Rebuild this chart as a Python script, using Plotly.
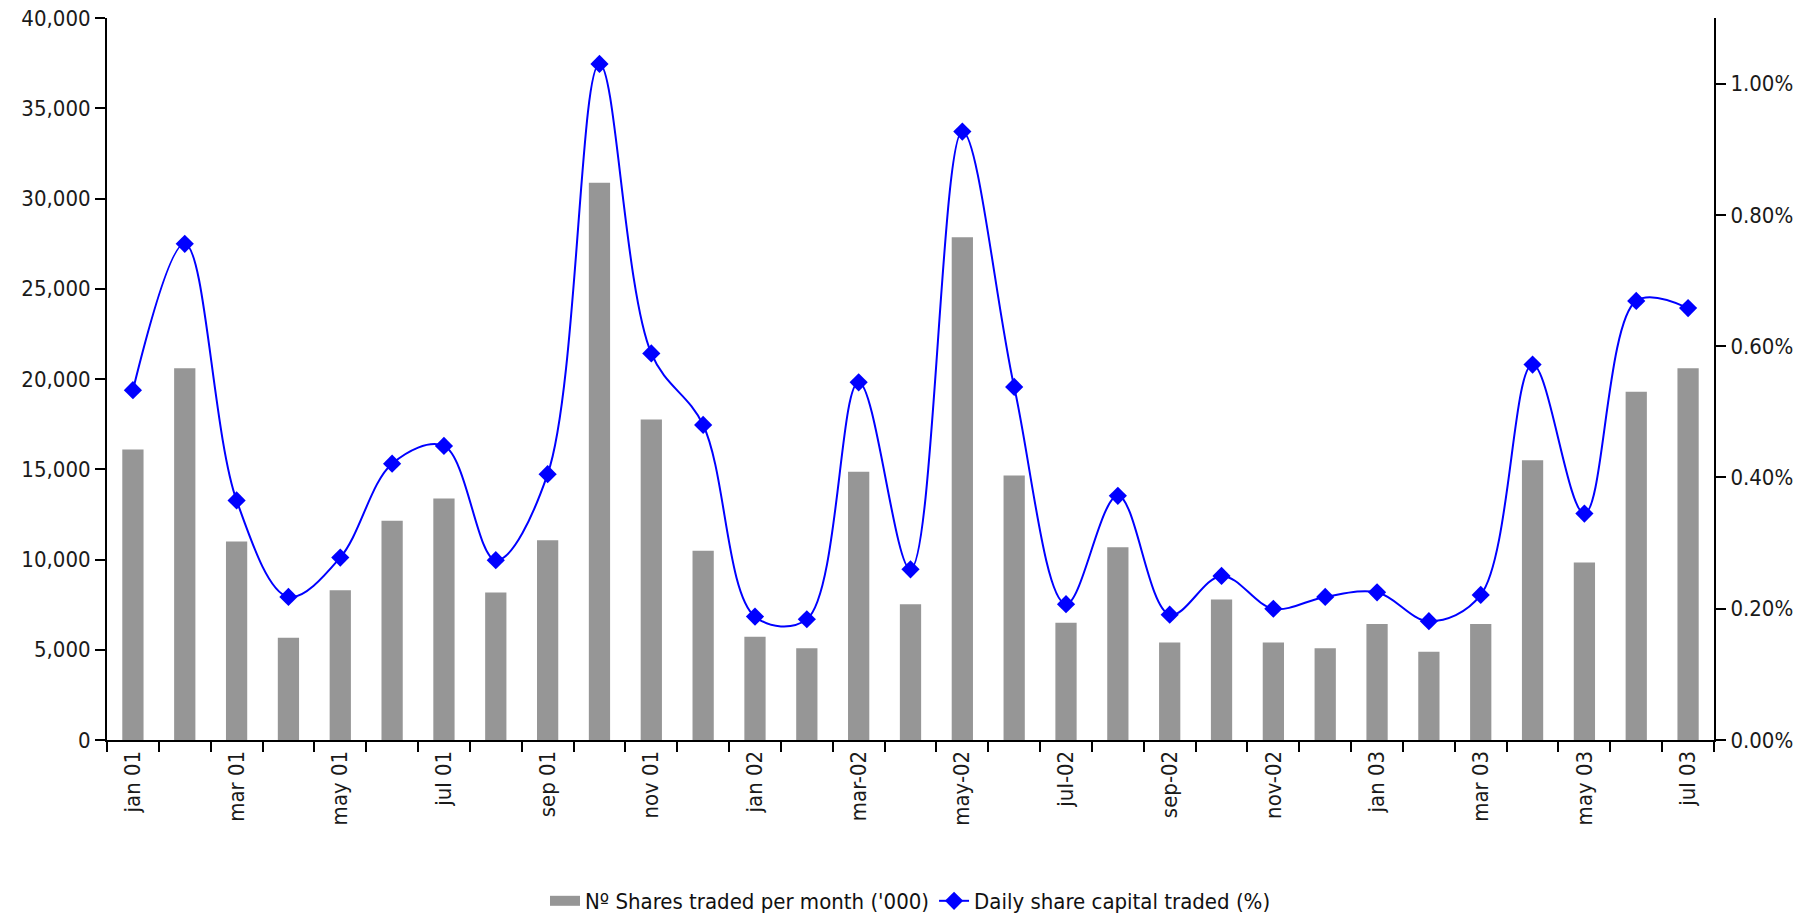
import plotly.graph_objects as go

months = ["jan 01", "feb 01", "mar 01", "apr 01", "may 01", "jun 01", "jul 01", "aug 01",
          "sep 01", "oct 01", "nov 01", "dec 01", "jan 02", "feb 02", "mar 02", "apr 02",
          "may 02", "jun 02", "jul 02", "aug 02", "sep 02", "oct 02", "nov 02", "dec 02",
          "jan 03", "feb 03", "mar 03", "apr 03", "may 03", "jun 03", "jul 03"]

tick_labels = ["jan 01", "", "mar 01", "", "may 01", "", "jul 01", "",
               "sep 01", "", "nov 01", "", "jan 02", "", "mar-02", "",
               "may-02", "", "jul-02", "", "sep-02", "", "nov-02", "",
               "jan 03", "", "mar 03", "", "may 03", "", "jul 03"]

shares_traded = [16100, 20600, 11000, 5660, 8300, 12150, 13380, 8170,
                 11060, 30870, 17750, 10480, 5720, 5080, 14860, 7520,
                 27850, 14660, 6500, 10680, 5400, 7780, 5400, 5080,
                 6430, 4890, 6430, 15500, 9840, 19300, 20600]

capital_traded = [0.00533, 0.00756, 0.00365, 0.00218, 0.00278, 0.00421, 0.00448, 0.00274,
                  0.00405, 0.01030, 0.00589, 0.00480, 0.00188, 0.00184, 0.00545, 0.00260,
                  0.00927, 0.00538, 0.00207, 0.00372, 0.00191, 0.00250, 0.00200, 0.00218,
                  0.00225, 0.00181, 0.00221, 0.00572, 0.00345, 0.00669, 0.00658]

left_ticks = list(range(0, 40001, 5000))
right_ticks = [0, 0.002, 0.004, 0.006, 0.008, 0.010]
boundaries = [i - 0.5 for i in range(len(months) + 1)]

FONT = "DejaVu Sans Condensed, Liberation Sans Narrow, Arial Narrow, sans-serif"
BAR_NAME = "Nº Shares traded per month ('000)"
LINE_NAME = "Daily share capital traded (%)"

fig = go.Figure()
fig.add_trace(go.Bar(
    x=months, y=shares_traded, name=BAR_NAME, showlegend=False,
    marker=dict(color="#969696", line=dict(width=0)), width=0.41, yaxis="y"))
# legend entry for the bars (wide grey swatch as in the original)
fig.add_trace(go.Scatter(
    x=[None], y=[None], name=BAR_NAME, mode="lines", yaxis="y",
    line=dict(color="#969696", width=19)))
fig.add_trace(go.Scatter(
    x=months, y=capital_traded, name=LINE_NAME,
    mode="lines+markers", yaxis="y2",
    line=dict(color="#0000FF", width=2, shape="spline", smoothing=1),
    marker=dict(symbol="diamond", size=14, color="#0000FF")))

axis_common = dict(showgrid=False, zeroline=False, linecolor="black", linewidth=2,
                   tickcolor="black", tickwidth=2, ticklen=10, automargin=False,
                   ticklabeloverflow="allow")
inner_common = dict(showticklabels=False, showline=False, showgrid=False, zeroline=False,
                    tickcolor="black", tickwidth=2, ticklen=10, ticks="inside",
                    automargin=False)

fig.update_layout(
    width=1816, height=919,
    paper_bgcolor="white", plot_bgcolor="white",
    margin=dict(l=107, r=102, t=18, b=179, autoexpand=False),
    font=dict(family=FONT, size=22, color="#1a1a1a"),
    xaxis=dict(type="category", categoryorder="array", categoryarray=months,
               tickmode="array", tickvals=months, ticktext=tick_labels,
               tickson="boundaries", ticks="outside", tickangle=-90,
               showline=True, range=[-0.5, len(months) - 0.5], **axis_common),
    xaxis2=dict(overlaying="x", anchor="y", side="bottom", range=[-0.5, len(months) - 0.5],
                tickmode="array", tickvals=boundaries, **inner_common),
    yaxis=dict(range=[0, 40000], tickmode="array", tickvals=left_ticks,
               tickformat=",", ticks="outside", showline=True, **axis_common),
    yaxis2=dict(overlaying="y", side="right", anchor="x", range=[0, 0.011],
                tickmode="array", tickvals=right_ticks, tickformat=".2%",
                ticks="outside", showline=True, **axis_common),
    yaxis3=dict(overlaying="y", side="left", anchor="x", range=[0, 40000],
                tickmode="array", tickvals=left_ticks, **inner_common),
    yaxis4=dict(overlaying="y", side="right", anchor="x", range=[0, 0.011],
                tickmode="array", tickvals=right_ticks, **inner_common),
    legend=dict(orientation="h", x=0.5, xanchor="center", y=-0.223, yanchor="middle",
                font=dict(size=22, family=FONT, color="#111111"),
                bgcolor="rgba(0,0,0,0)", traceorder="normal"),
)

fig.write_html("out.html",
               config={"displayModeBar": False},
               post_script="document.body.style.margin='0';document.body.style.overflow='hidden';")
